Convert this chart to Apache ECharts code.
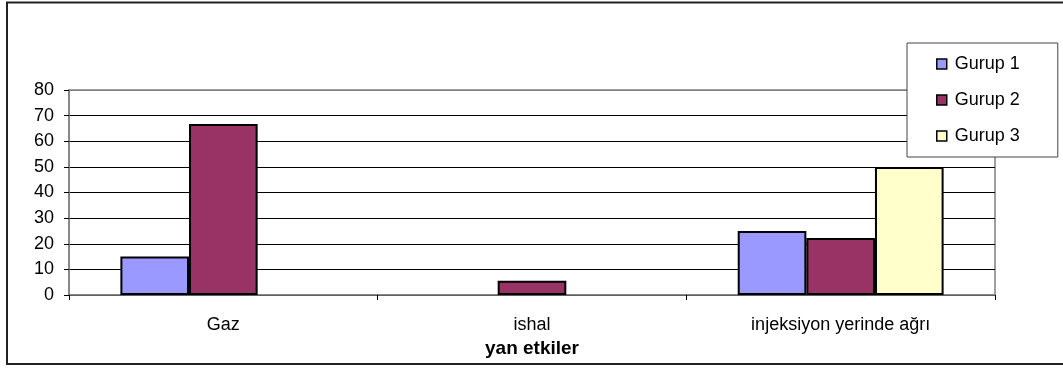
<!DOCTYPE html>
<html>
<head>
<meta charset="utf-8">
<script src="https://cdn.jsdelivr.net/npm/echarts@6/dist/echarts.min.js"></script>
<style>
  html, body { margin: 0; padding: 0; background: #fff; }
  #chart { width: 1063px; height: 369px; }
</style>
</head>
<body>
<div id="chart"></div>
<script>
// Side effects reported per group (percent)
const categories = ['Gaz', 'ishal', 'injeksiyon yerinde ağrı'];
const seriesNames = ['Gurup 1', 'Gurup 2', 'Gurup 3'];
const gurup1 = [15, 0, 25];
const gurup2 = [66.7, 5.6, 22.2];
const gurup3 = [0, 0, 50];
const yTicks = [0, 10, 20, 30, 40, 50, 60, 70, 80];
const xAxisTitle = 'yan etkiler';

const colors = ['#9999FF', '#993366', '#FFFFCC'];
const values = [gurup1, gurup2, gurup3];
const font = '"Liberation Sans", Arial, sans-serif';

const chart = echarts.init(document.getElementById('chart'), null, { renderer: 'canvas' });

const series = seriesNames.map((name, i) => ({
  name: name,
  type: 'bar',
  barGap: '0%',
  barCategoryGap: '33.3%',
  itemStyle: { color: colors[i], borderColor: '#000', borderWidth: 2 },
  // zero values draw no outline on the baseline
  data: values[i].map(v => v === 0
    ? { value: v, itemStyle: { borderWidth: 0 } }
    : v)
}));

chart.setOption({
  animation: false,
  color: colors,
  grid: {
    left: 69, right: 68, top: 90, bottom: 74,
    show: true, borderColor: '#808080', borderWidth: 1.5, backgroundColor: '#fff'
  },
  legend: {
    orient: 'vertical',
    left: 907, top: 43,
    padding: [12, 38, 12, 29],
    itemGap: 18,
    itemWidth: 10, itemHeight: 10,
    icon: 'rect',
    backgroundColor: '#fff',
    borderColor: '#444',
    borderWidth: 1,
    itemStyle: { borderColor: '#000', borderWidth: 1.5 },
    textStyle: { fontFamily: font, fontSize: 18, color: '#000', padding: [0, 0, 0, 3] },
    data: seriesNames
  },
  xAxis: {
    type: 'category',
    data: categories,
    boundaryGap: true,
    name: xAxisTitle,
    nameLocation: 'middle',
    nameGap: 42,
    nameTextStyle: { fontFamily: font, fontSize: 19, fontWeight: 'bold', color: '#000' },
    axisLine: { lineStyle: { color: '#808080', width: 1.5 } },
    axisTick: { show: true, length: 5, lineStyle: { color: '#000' } },
    axisLabel: { fontFamily: font, fontSize: 18, color: '#000', margin: 21 }
  },
  yAxis: {
    type: 'value',
    min: yTicks[0],
    max: yTicks[yTicks.length - 1],
    interval: yTicks[1] - yTicks[0],
    axisLine: { show: true, lineStyle: { color: '#808080', width: 1.5 } },
    axisTick: { show: true, length: 5, lineStyle: { color: '#000' } },
    axisLabel: { fontFamily: font, fontSize: 18, color: '#000', margin: 15 },
    splitLine: {
      show: true,
      lineStyle: { color: ['#000', '#000', '#000', '#000', '#000', '#000', '#000', '#000', '#808080'], width: 1 }
    }
  },
  graphic: [{
    type: 'rect',
    silent: true,
    z: -10,
    shape: { x: 7, y: 2.5, width: 1100, height: 361.5 },
    style: { fill: 'none', stroke: '#222', lineWidth: 2 }
  }],
  series: series
});
</script>
</body>
</html>
